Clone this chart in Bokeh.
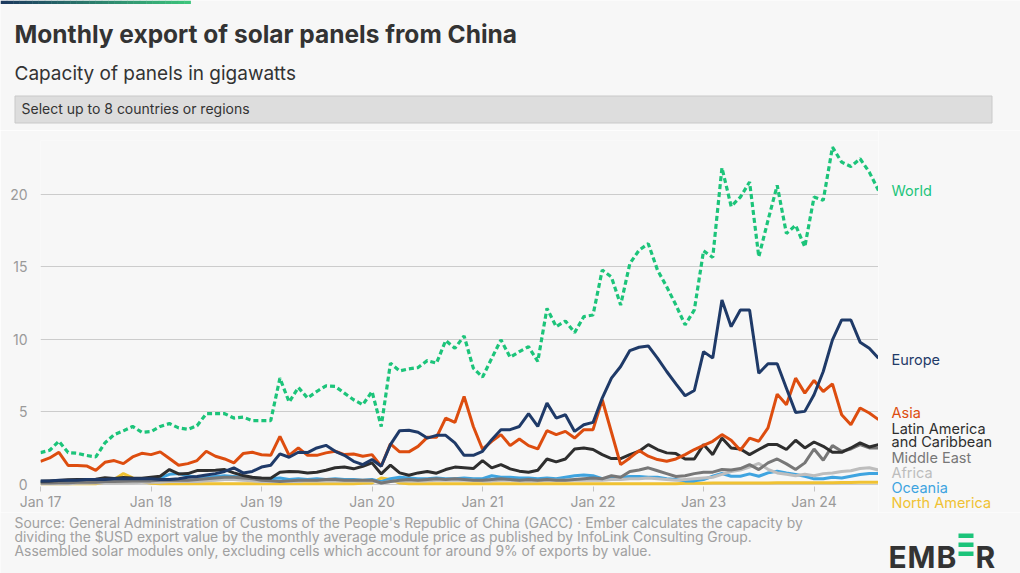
from bokeh.plotting import figure
from bokeh.models import Range1d, FixedTicker
from bokeh.layouts import column, row
from bokeh.core.properties import value
from bokeh.embed import file_html
from bokeh.resources import INLINE

# ---------------- data (GW per month, Jan 2017 .. Aug 2024) ----------------
months = list(range(92))
tick_positions = [0, 12, 24, 36, 48, 60, 72, 84]
tick_labels = ["Jan 17", "Jan 18", "Jan 19", "Jan 20", "Jan 21", "Jan 22", "Jan 23", "Jan 24"]
y_ticks = [0, 5, 10, 15, 20]

world = [2.2, 2.36, 2.98, 2.2, 2.15, 2.0, 1.9, 2.87, 3.44, 3.7, 4.0, 3.6,
         3.65, 4.0, 4.2, 3.9, 3.8, 4.05, 4.88, 4.88, 4.88, 4.58, 4.65, 4.4,
         4.4, 4.4, 7.33, 5.68, 6.69, 5.96, 6.41, 6.8, 6.76, 6.3, 5.84, 5.5,
         6.41, 4.0, 8.36, 7.83, 7.97, 8.06, 8.54, 8.36, 9.92, 9.39, 10.24, 8.02,
         7.4, 8.7, 9.97, 8.77, 9.16, 9.5, 8.48, 12.14, 10.88, 11.27, 10.47, 11.57,
         11.68, 14.78, 14.3, 12.37, 15.23, 16.15, 16.6, 14.78, 13.63, 12.37, 11.0, 12.03,
         16.1, 15.65, 21.83, 19.17, 19.81, 20.85, 15.69, 18.21, 20.62, 17.3, 17.87, 16.38,
         19.81, 19.59, 23.25, 22.22, 21.92, 22.45, 21.53, 20.27]

europe = [0.25, 0.25, 0.3, 0.3, 0.3, 0.35, 0.35, 0.35, 0.4, 0.4, 0.4, 0.4,
          0.4, 0.35, 0.35, 0.4, 0.5, 0.55, 0.65, 0.75, 0.9, 1.15, 0.8, 0.9,
          1.2, 1.33, 2.11, 1.88, 2.22, 2.2, 2.52, 2.7, 2.29, 2.01, 1.6, 1.37,
          1.72, 1.26, 2.75, 3.71, 3.74, 3.6, 3.2, 3.39, 3.39, 2.87, 2.01, 2.01,
          2.29, 3.09, 3.78, 3.78, 4.0, 4.88, 4.0, 5.61, 4.58, 4.81, 3.66, 4.12,
          4.28, 5.96, 7.33, 8.13, 9.23, 9.46, 9.55, 8.71, 7.79, 6.94, 6.12, 6.48,
          9.16, 8.71, 12.71, 10.88, 12.03, 12.03, 7.67, 8.32, 8.32, 6.64, 4.97, 5.04,
          6.19, 7.79, 9.97, 11.34, 11.34, 9.81, 9.39, 8.71]

asia = [1.6, 1.83, 2.22, 1.31, 1.31, 1.28, 0.98, 1.53, 1.65, 1.44, 1.9, 2.15,
        2.06, 2.25, 1.79, 1.33, 1.44, 1.65, 2.29, 1.95, 1.76, 1.49, 2.13, 2.22,
        2.05, 2.01, 3.32, 2.01, 2.52, 2.01, 2.01, 2.18, 2.29, 2.06, 2.1, 1.95,
        2.06, 1.26, 2.8, 2.25, 2.25, 2.63, 3.25, 3.25, 4.58, 4.28, 6.07, 4.0,
        2.43, 2.98, 3.44, 2.68, 3.14, 2.68, 2.45, 3.71, 3.44, 3.66, 3.2, 3.78,
        3.78, 5.84, 3.6, 1.37, 1.83, 2.34, 1.95, 1.72, 1.6, 1.76, 2.06, 2.41,
        2.7, 2.98, 3.44, 3.05, 2.36, 3.2, 2.98, 3.9, 6.23, 5.5, 7.33, 6.3,
        7.17, 6.41, 6.94, 4.81, 4.12, 5.27, 4.93, 4.47]

latin_america = [0.22, 0.25, 0.28, 0.32, 0.34, 0.34, 0.36, 0.46, 0.42, 0.48, 0.45, 0.43,
                 0.5, 0.57, 1.03, 0.73, 0.75, 0.96, 0.97, 0.98, 1.03, 0.8, 0.62, 0.5,
                 0.45, 0.43, 0.85, 0.9, 0.88, 0.8, 0.85, 0.98, 1.15, 1.2, 1.08, 1.26,
                 1.49, 0.73, 1.33, 0.8, 0.64, 0.8, 0.9, 0.78, 1.03, 1.2, 1.15, 1.1,
                 1.65, 1.15, 1.37, 1.08, 0.92, 0.85, 0.98, 1.76, 1.56, 1.76, 2.45, 2.52,
                 2.41, 2.06, 1.79, 1.79, 2.06, 2.29, 2.75, 2.41, 2.18, 2.13, 1.76, 1.76,
                 2.75, 2.06, 3.2, 2.52, 2.45, 2.06, 2.41, 2.75, 2.75, 2.41, 3.05, 2.52,
                 2.93, 2.63, 2.22, 2.22, 2.52, 2.87, 2.59, 2.75]

middle_east = [0.1, 0.1, 0.12, 0.12, 0.15, 0.15, 0.15, 0.2, 0.2, 0.22, 0.25, 0.25,
               0.25, 0.3, 0.3, 0.3, 0.3, 0.35, 0.4, 0.45, 0.5, 0.5, 0.45, 0.4,
               0.3, 0.25, 0.2, 0.25, 0.3, 0.3, 0.3, 0.35, 0.35, 0.3, 0.3, 0.3,
               0.3, 0.1, 0.2, 0.3, 0.35, 0.3, 0.35, 0.4, 0.35, 0.4, 0.35, 0.3,
               0.3, 0.35, 0.4, 0.35, 0.3, 0.35, 0.3, 0.35, 0.3, 0.3, 0.35, 0.4,
               0.45, 0.4, 0.6, 0.5, 0.9, 1.0, 1.15, 0.95, 0.75, 0.55, 0.6, 0.75,
               0.85, 0.85, 1.03, 1.0, 1.1, 1.37, 1.03, 1.49, 1.76, 1.42, 1.03, 1.49,
               2.45, 1.67, 2.68, 2.29, 2.45, 2.75, 2.52, 2.52]

africa = [0.05, 0.05, 0.05, 0.05, 0.08, 0.08, 0.1, 0.1, 0.1, 0.12, 0.12, 0.15,
          0.15, 0.15, 0.2, 0.2, 0.2, 0.2, 0.25, 0.3, 0.35, 0.35, 0.3, 0.25,
          0.2, 0.2, 0.2, 0.2, 0.2, 0.25, 0.25, 0.25, 0.25, 0.25, 0.25, 0.25,
          0.25, 0.1, 0.2, 0.25, 0.25, 0.25, 0.25, 0.3, 0.3, 0.3, 0.3, 0.3,
          0.25, 0.25, 0.3, 0.3, 0.25, 0.25, 0.25, 0.3, 0.3, 0.3, 0.3, 0.3,
          0.3, 0.3, 0.35, 0.35, 0.4, 0.4, 0.45, 0.4, 0.35, 0.3, 0.35, 0.4,
          0.45, 0.5, 0.7, 0.9, 1.0, 1.2, 1.45, 1.05, 0.8, 0.7, 0.6, 0.7,
          0.6, 0.75, 0.8, 0.9, 0.95, 1.1, 1.15, 1.0]

oceania = [0.15, 0.15, 0.15, 0.18, 0.2, 0.2, 0.22, 0.25, 0.25, 0.28, 0.3, 0.3,
           0.35, 0.45, 0.7, 0.75, 0.6, 0.5, 0.5, 0.55, 0.6, 0.55, 0.5, 0.45,
           0.4, 0.4, 0.45, 0.35, 0.4, 0.35, 0.4, 0.35, 0.4, 0.35, 0.35, 0.3,
           0.35, 0.2, 0.4, 0.5, 0.45, 0.4, 0.4, 0.45, 0.4, 0.4, 0.45, 0.4,
           0.4, 0.6, 0.5, 0.5, 0.45, 0.45, 0.4, 0.45, 0.4, 0.5, 0.6, 0.65,
           0.6, 0.4, 0.45, 0.5, 0.55, 0.55, 0.5, 0.5, 0.4, 0.35, 0.25, 0.25,
           0.34, 0.57, 0.76, 0.57, 0.57, 0.73, 0.57, 0.8, 0.92, 0.8, 0.69, 0.57,
           0.39, 0.39, 0.5, 0.45, 0.57, 0.69, 0.76, 0.76]

north_america = [0.05, 0.05, 0.05, 0.05, 0.05, 0.05, 0.05, 0.15, 0.35, 0.75, 0.45, 0.2,
                 0.08, 0.06, 0.06, 0.06, 0.06, 0.06, 0.06, 0.06, 0.06, 0.06, 0.06, 0.06,
                 0.06, 0.06, 0.06, 0.06, 0.06, 0.06, 0.06, 0.06, 0.06, 0.06, 0.06, 0.08,
                 0.1, 0.45, 0.35, 0.1, 0.06, 0.06, 0.06, 0.06, 0.06, 0.06, 0.06, 0.06,
                 0.06, 0.06, 0.06, 0.06, 0.06, 0.06, 0.06, 0.06, 0.06, 0.06, 0.06, 0.06,
                 0.06, 0.06, 0.06, 0.06, 0.06, 0.06, 0.06, 0.06, 0.06, 0.06, 0.08, 0.08,
                 0.08, 0.1, 0.1, 0.1, 0.1, 0.1, 0.1, 0.1, 0.12, 0.12, 0.12, 0.12,
                 0.12, 0.12, 0.12, 0.14, 0.14, 0.15, 0.15, 0.15]

series_names = ["North America", "Oceania", "Africa", "Middle East",
                "Latin America and Caribbean", "Asia", "Europe", "World"]
series_values = [north_america, oceania, africa, middle_east,
                 latin_america, asia, europe, world]

# ---------------- styling ----------------
colors = {"World": "#1cc47a", "Europe": "#1f3a68", "Asia": "#dd4d0f",
          "Latin America and Caribbean": "#2e2e2e", "Middle East": "#777777",
          "Africa": "#bdbdbd", "Oceania": "#3fa4e0", "North America": "#f0c233"}
BG = "#f7f7f7"
FONT = "Inter"

W, H = 1020, 573
HEAD_H = 130          # header strip height
MAIN_BOTTOM = 512     # where the chart strip ends (global px)
FRAME_L, FRAME_R, FRAME_T, FRAME_B = 40, 878, 140, 487
Y0, Y1 = -0.1375, 23.71


def canvas(w, h, top):
    """A plain drawing strip whose data coordinates are page pixels."""
    x0 = 0 if w == W else FRAME_R
    f = figure(width=w, height=h, output_backend="svg", toolbar_location=None,
               x_range=Range1d(x0, x0 + w), y_range=Range1d(top + h, top),
               x_axis_location=None, y_axis_location=None, min_border=0)
    f.frame_align = False
    f.background_fill_color = BG
    f.border_fill_color = BG
    f.outline_line_color = None
    f.grid.visible = False
    return f


def put_text(f, x, y, text, size, color, bold=False, baseline="middle", align="left"):
    f.text(x=[x], y=[y], text=[text], text_font=value(FONT), text_font_size=value(size),
           text_color=color, text_font_style="bold" if bold else "normal",
           text_baseline=baseline, text_align=align)


# ---------------- header ----------------
head = canvas(W, HEAD_H, 0)
n_steps = 30
c0 = (0x1c, 0x3a, 0x5e)
c1 = (0x3c, 0xc4, 0x7c)
g_left = [190 * k / n_steps for k in range(n_steps)]
g_right = [190 * (k + 1) / n_steps + 0.4 for k in range(n_steps)]
g_cols = ["#%02x%02x%02x" % tuple(int(a + (b - a) * k / (n_steps - 1)) for a, b in zip(c0, c1))
          for k in range(n_steps)]
head.quad(left=g_left, right=g_right, top=[0] * n_steps, bottom=[3.5] * n_steps,
          fill_color=g_cols, line_color=None)
put_text(head, 14, 33, "Monthly export of solar panels from China", "24.5px", "#333333", bold=True)
put_text(head, 14, 73, "Capacity of panels in gigawatts", "19px", "#333333")
head.quad(left=[14.5], right=[991.5], top=[95.5], bottom=[122.5],
          fill_color="#dddddd", line_color="#c9c9c9", line_width=1)
put_text(head, 21, 108, "Select up to 8 countries or regions", "14px", "#333333")

# ---------------- main chart ----------------
main_h = MAIN_BOTTOM - HEAD_H
p = figure(width=FRAME_R, height=main_h, output_backend="svg", toolbar_location=None,
           x_range=Range1d(0, 91), y_range=Range1d(Y0, Y1),
           min_border_left=FRAME_L, min_border_right=0,
           min_border_top=FRAME_T - HEAD_H, min_border_bottom=MAIN_BOTTOM - FRAME_B)
p.background_fill_color = BG
p.border_fill_color = BG
p.outline_line_color = None

p.xgrid.grid_line_color = None
p.ygrid.grid_line_color = "#cccccc"
p.ygrid.grid_line_width = 1
p.ygrid.ticker = FixedTicker(ticks=y_ticks)

p.yaxis.ticker = FixedTicker(ticks=y_ticks)
p.yaxis.axis_line_color = None
p.yaxis.major_tick_line_color = None
p.yaxis.minor_tick_line_color = None
p.yaxis.major_label_text_color = "#9a9a9a"
p.yaxis.major_label_text_font = FONT
p.yaxis.major_label_text_font_size = "14px"
p.yaxis.major_label_standoff = 7

p.xaxis.ticker = FixedTicker(ticks=tick_positions)
p.xaxis.major_label_overrides = {t: l for t, l in zip(tick_positions, tick_labels)}
p.xaxis.axis_line_color = None
p.xaxis.major_tick_line_color = "#c4c4c4"
p.xaxis.major_tick_in = 0
p.xaxis.major_tick_out = 5
p.xaxis.minor_tick_line_color = None
p.xaxis.major_label_text_color = "#9a9a9a"
p.xaxis.major_label_text_font = FONT
p.xaxis.major_label_text_font_size = "14px"
p.xaxis.major_label_standoff = 1

for name, vals in zip(series_names, series_values):
    if name == "World":
        p.line(months, vals, line_color=colors[name], line_width=3.2, line_dash="5 3")
    else:
        p.line(months, vals, line_color=colors[name], line_width=3)

# ---------------- series labels at the right ----------------
side = canvas(W - FRAME_R, main_h, HEAD_H)
side_labels = [("World", "World", 190), ("Europe", "Europe", 359), ("Asia", "Asia", 412),
               ("Latin America", "Latin America and Caribbean", 428),
               ("and Caribbean", "Latin America and Caribbean", 441),
               ("Middle East", "Middle East", 457), ("Africa", "Africa", 472),
               ("Oceania", "Oceania", 487), ("North America", "North America", 502)]
for txt, key, yy in side_labels:
    put_text(side, 891, yy, txt, "14.5px", colors[key])

# ---------------- footer ----------------
foot = canvas(W, H - MAIN_BOTTOM, MAIN_BOTTOM)
footer = ["Source: General Administration of Customs of the People's Republic of China (GACC) \u00b7 Ember calculates the capacity by",
          "dividing the $USD export value by the monthly average module price as published by InfoLink Consulting Group.",
          "Assembled solar modules only, excluding cells which account for around 9% of exports by value."]
for k, line in enumerate(footer):
    put_text(foot, 14, 522 + 14 * k, line, "13.9px", "#a0a0a0")

for ch, xx in zip(["E", "M", "B", "R"], [888, 907, 936, 975]):
    put_text(foot, xx, 556, ch, "30px", "#333333", bold=True, baseline="alphabetic")
foot.quad(left=[958] * 3, right=[973] * 3, top=[533, 542, 551], bottom=[537.5, 546.5, 555.5],
          fill_color="#1cc47a", line_color=None)

layout = column(head, row(p, side, spacing=0), foot, spacing=0)
open("out.html", "w").write(file_html(layout, INLINE))
